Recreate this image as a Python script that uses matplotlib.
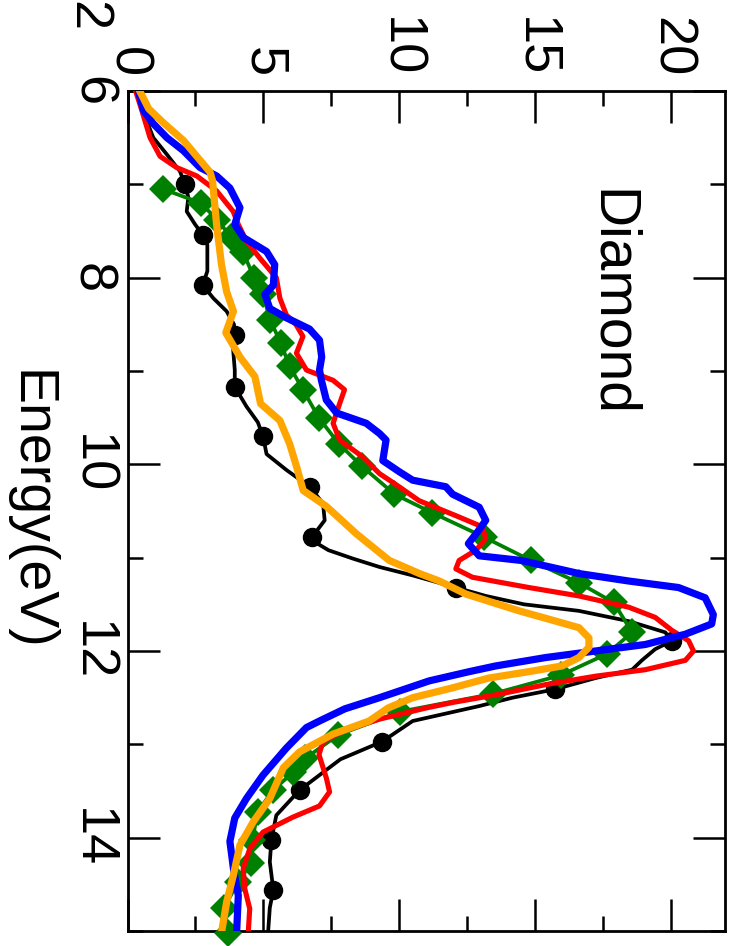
import matplotlib
matplotlib.use("Agg")
import matplotlib.pyplot as plt

plt.rcParams['font.family'] = ['Liberation Sans', 'DejaVu Sans']

# ---------------- data (energy in eV, epsilon_2 values) ----------------
black_E = [6.0, 6.28, 6.50, 6.68, 6.86, 7.0, 7.14, 7.29, 7.43, 7.54, 7.65, 7.93, 8.08, 8.22,
           8.36, 8.50, 8.61, 8.77, 8.99, 9.17, 9.38, 9.55, 9.70, 9.89, 10.06, 10.24, 10.42,
           10.60, 10.70, 10.78, 10.85, 10.92, 11.01, 11.10, 11.19, 11.32, 11.41, 11.50, 11.57,
           11.68, 11.80, 11.89, 11.98, 12.10, 12.20, 12.29, 12.41, 12.50, 12.59, 12.75, 12.97,
           13.16, 13.49, 13.76, 14.02, 14.26, 14.56, 14.75, 15.0]
black_v = [0.3, 0.65, 0.95, 1.45, 1.93, 2.12, 2.24, 2.18, 2.49, 2.77, 2.94, 2.94, 2.77, 3.16,
           3.65, 3.92, 3.95, 3.89, 3.95, 3.95, 4.38, 4.8, 4.99, 5.12, 5.85, 6.71, 7.20,
           7.26, 7.0, 6.80, 7.0, 7.4, 8.3, 9.28, 10.5, 12.09, 13.19, 14.6, 16.62,
           18.45, 19.8, 20.05, 19.43, 18.94, 18.58, 17.23, 15.74, 14.18, 12.95, 10.5, 9.38,
           7.84, 6.34, 5.48, 5.30, 5.24, 5.37, 5.24, 5.18]

black_mark_E = [7.0, 7.54, 8.08, 8.61, 9.17, 9.70, 10.24, 10.78, 11.32, 11.89, 12.41, 12.97,
                13.49, 14.02, 14.56]
black_mark_v = [2.12, 2.77, 2.77, 3.95, 3.95, 4.99, 6.71, 6.80, 12.09, 20.05, 15.74, 9.38,
                6.34, 5.30, 5.37]

green_E = [7.05, 7.20, 7.38, 7.56, 7.73, 8.0, 8.18, 8.45, 8.70, 8.95, 9.20, 9.50, 9.78, 10.02,
           10.32, 10.52, 10.78, 11.03, 11.27, 11.48, 11.80, 12.03, 12.26, 12.46, 12.65, 12.90,
           13.15, 13.30, 13.49, 13.72, 14.02, 14.27, 14.47, 14.75, 15.02]
green_v = [1.3, 2.7, 3.3, 3.8, 4.26, 4.66, 4.99, 5.25, 5.64, 5.97, 6.46, 7.04, 7.78, 8.63,
           9.83, 11.23, 13.13, 14.85, 16.62, 17.9, 18.58, 17.66, 15.95, 13.44, 10.03, 7.75,
           6.55, 6.1, 5.36, 4.8, 4.6, 4.55, 4.08, 3.56, 3.7]

red_E = [6.0, 6.21, 6.50, 6.70, 6.82, 6.91, 7.07, 7.29, 7.43, 7.61, 7.79, 8.0, 8.22, 8.40,
         8.50, 8.63, 8.81, 8.99, 9.10, 9.20, 9.35, 9.56, 9.74, 9.92, 10.10, 10.20, 10.39,
         10.55, 10.67, 10.80, 10.92, 11.03, 11.12, 11.21, 11.32, 11.41, 11.53, 11.64, 11.78,
         11.89, 12.0, 12.10, 12.20, 12.27, 12.36, 12.47, 12.55, 12.61, 12.73, 12.85, 12.97,
         13.11, 13.36, 13.51, 13.66, 13.78, 13.94, 14.12, 14.33, 14.55, 14.76, 15.0]
red_v = [0.3, 0.53, 0.83, 1.20, 1.81, 2.55, 3.28, 3.89, 4.08, 4.38, 4.87, 5.48, 5.61, 5.85,
         6.2, 6.46, 6.22, 6.59, 7.57, 7.99, 7.81, 7.57, 7.81, 8.66, 9.28, 9.8, 10.74,
         12.09, 13.07, 13.19, 12.83, 12.21, 12.09, 12.70, 14.78, 16.62, 18.45, 19.43, 20.05,
         20.66, 20.84, 20.54, 19.07, 17.23, 15.40, 13.56, 12.0, 11.0, 9.28, 8.0, 7.2,
         7.05, 7.32, 7.44, 7.07, 6.09, 4.99, 4.50, 4.26, 4.32, 4.5, 4.45]

blue_E = [6.0, 6.21, 6.35, 6.50, 6.64, 6.82, 6.91, 7.04, 7.25, 7.43, 7.57, 7.72, 7.86, 8.08,
          8.18, 8.33, 8.43, 8.55, 8.67, 8.85, 8.99, 9.10, 9.31, 9.45, 9.56, 9.67, 9.74, 9.96,
          10.08, 10.17, 10.24, 10.32, 10.46, 10.60, 10.72, 10.85, 10.98, 11.03, 11.17, 11.25,
          11.32, 11.43, 11.61, 11.71, 11.82, 11.93, 12.0, 12.07, 12.16, 12.22, 12.32, 12.50,
          12.62, 12.75, 12.82, 13.04, 13.33, 13.58, 13.79, 14.04, 14.33, 14.62, 15.0]
blue_v = [0.4, 0.59, 0.95, 1.45, 2.06, 2.67, 3.28, 3.77, 4.14, 3.95, 4.27, 5.12, 5.42, 5.37,
          5.06, 5.24, 5.85, 6.7, 7.07, 7.15, 7.07, 7.14, 7.32, 7.7, 8.79, 9.28, 9.52, 9.4,
          10.01, 10.5, 11.72, 11.97, 12.95, 13.19, 12.9, 12.55, 12.95, 14.5, 16.62, 18.45,
          20.29, 21.27, 21.57, 21.51, 20.54, 19.07, 17.23, 15.40, 13.56, 12.6, 11.11, 9.28,
          8.0, 7.07, 6.59, 5.85, 4.99, 4.38, 3.95, 3.77, 3.90, 4.08, 4.02]

orange_E = [6.0, 6.19, 6.34, 6.53, 6.70, 6.87, 6.96, 7.43, 7.86, 8.15, 8.36, 8.59, 8.85, 9.06,
            9.35, 9.53, 9.78, 10.03, 10.28, 10.45, 10.75, 11.03, 11.17, 11.25, 11.39, 11.57,
            11.68, 11.75, 11.86, 11.96, 12.07, 12.16, 12.22, 12.29, 12.40, 12.50, 12.61, 12.75,
            12.89, 13.08, 13.25, 13.58, 13.83, 14.08, 14.40, 14.69, 15.0]
orange_v = [0.45, 0.78, 1.32, 2.06, 2.55, 3.04, 3.13, 3.28, 3.46, 3.65, 3.90, 3.62, 4.14, 4.69,
            4.90, 5.61, 5.97, 6.23, 6.47, 7.32, 8.45, 9.64, 10.75, 11.48, 12.46, 14.42,
            15.77, 16.62, 16.99, 16.99, 16.62, 16.0, 14.8, 13.3, 11.9, 10.5, 9.6, 8.9,
            7.57, 6.34, 5.74, 5.24, 4.63, 4.14, 3.90, 3.65, 3.47]

energy_ticks = [6, 8, 10, 12, 14]
energy_minor = [7, 9, 11, 13, 15]
eps_ticks = [0, 5, 10, 15, 20]
eps_minor = [2.5, 7.5, 12.5, 17.5]

W, H = 734, 946
fig = plt.figure(figsize=(W / 100, H / 100), dpi=100)
ax = fig.add_axes([127.5 / W, 1 - 931 / H, (725 - 127.5) / W, (931 - 91) / H])

ax.plot(black_v, black_E, color='black', lw=2.7, zorder=2, solid_joinstyle='round')
ax.plot(black_mark_v, black_mark_E, 'o', color='black', ms=13, zorder=2)
ax.plot(green_v, green_E, color='#008000', lw=2.7, marker='D', ms=14, mew=0,
        zorder=3, clip_on=False)
ax.plot(red_v, red_E, color='red', lw=3.7, zorder=4, solid_joinstyle='round')
ax.plot(blue_v, blue_E, color='blue', lw=5.2, zorder=5, solid_joinstyle='round')
ax.plot(orange_v, orange_E, color='orange', lw=5.2, zorder=6, solid_joinstyle='round')

ax.set_xlim(0, 22)
ax.set_ylim(15, 6)

ax.set_xticks(eps_ticks)
ax.set_xticks(eps_minor, minor=True)
ax.set_yticks(energy_ticks)
ax.set_yticks(energy_minor, minor=True)

ax.tick_params(axis='both', which='both', direction='in', top=True, bottom=True,
               left=True, right=True, labeltop=True, labelbottom=False,
               labelleft=True, labelright=False, width=1.8, colors='black')
ax.tick_params(axis='both', which='major', length=23, labelsize=39)
ax.tick_params(axis='both', which='minor', length=11)
ax.tick_params(axis='x', which='major', pad=10)
ax.tick_params(axis='y', which='major', pad=8)
for lab in ax.get_xticklabels():
    lab.set_rotation(-90)
for lab in ax.get_yticklabels():
    lab.set_rotation(-90)
    lab.set_va('center')

for s in ax.spines.values():
    s.set_linewidth(2.0)

fig.text(29 / W, 1 - 510 / H, 'Energy(eV)', rotation=-90, ha='center', va='center',
         fontsize=40)
ax.text(17.8, 8.27, 'Diamond', rotation=-90, ha='center', va='center', fontsize=41)
fig.text(87 / W, 1 - 16 / H, '2', rotation=-90, ha='center', va='center', fontsize=39)

fig.savefig('out.png', dpi=100)
